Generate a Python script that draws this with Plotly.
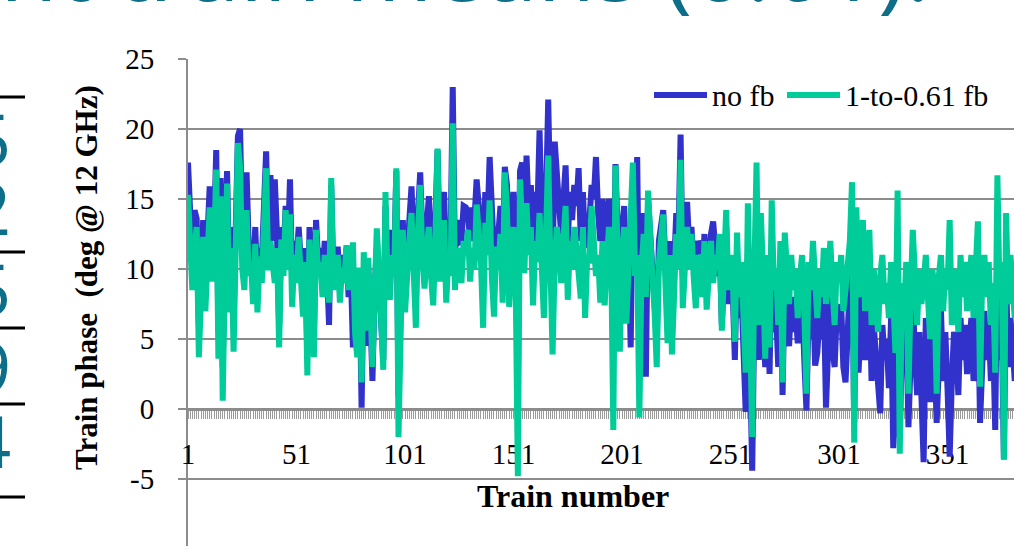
import plotly.graph_objects as go

# ---------------- data ----------------
no_fb = [
    17.6, 14.0, 10.5, 14.2, 13.6, 6.0, 11.5, 13.5, 9.0, 12.5,
    15.9, 11.0, 12.5, 18.5, 5.5, 16.5, 3.0, 12.0, 17.0, 9.0,
    13.0, 6.5, 14.0, 19.5, 20.0, 12.5, 10.5, 16.9, 11.5, 12.0,
    9.5, 13.0, 8.5, 11.5, 10.5, 14.0, 18.4, 11.5, 16.7, 12.0,
    16.4, 12.5, 6.0, 13.0, 11.0, 14.5, 11.5, 16.4, 9.0, 12.0,
    10.5, 13.0, 9.5, 8.0, 11.5, 4.0, 13.0, 9.0, 5.0, 13.5,
    10.5, 11.5, 9.0, 12.0, 10.0, 6.0, 16.0, 9.5, 10.5, 11.6,
    8.5, 11.0, 9.5, 11.5, 8.0, 10.1, 4.4, 9.0, 5.0, 9.5,
    0.1, 10.0, 4.5, 9.5, 7.0, 2.0, 8.5, 11.5, 9.0, 5.5,
    3.5, 14.5, 9.5, 9.0, 12.8, 10.5, 17.0, 1.0, 10.0, 13.5,
    8.5, 12.0, 13.5, 15.9, 11.5, 8.0, 14.0, 16.9, 12.5, 11.0,
    13.0, 15.2, 11.5, 9.5, 13.5, 18.5, 11.5, 14.7, 15.5, 10.0,
    13.0, 11.9, 23.0, 11.0, 13.5, 11.9, 12.0, 14.5, 14.4, 14.1,
    12.0, 14.4, 13.5, 16.4, 14.5, 13.0, 11.0, 15.5, 13.0, 18.0,
    13.0, 11.0, 13.0, 12.5, 14.5, 11.0, 17.3, 16.0, 11.0, 14.0,
    15.5, 12.0, 2.0, 17.0, 17.6, 13.0, 18.1, 14.0, 16.0, 12.0,
    15.5, 14.0, 19.9, 13.5, 11.0, 15.0, 22.1, 14.0, 10.0, 19.1,
    16.0, 14.5, 12.5, 15.5, 17.4, 12.0, 15.5, 13.5, 16.0, 14.5,
    17.2, 12.0, 15.5, 11.5, 14.0, 13.5, 16.0, 15.0, 18.0, 14.0,
    12.0, 15.0, 11.5, 13.5, 15.0, 14.0, 6.0, 17.5, 12.0, 7.5,
    13.0, 14.5, 9.5, 12.0, 4.4, 16.5, 12.0, 18.0, 5.0, 12.0,
    14.0, 2.3, 15.0, 12.5, 11.0, 9.0, 5.0, 12.0, 13.0, 14.2,
    10.5, 6.5, 12.0, 6.0, 10.0, 14.0, 12.0, 19.6, 9.5, 13.0,
    14.8, 11.5, 13.0, 10.5, 9.0, 12.0, 11.5, 9.5, 12.5, 8.0,
    11.0, 12.5, 13.4, 10.5, 9.5, 11.5, 6.0, 9.5, 13.0, 7.5,
    9.5, 8.5, 3.5, 10.5, 6.5, 8.5, 4.0, -0.2, 11.0, 5.0,
    -4.4, 7.0, 13.0, 3.5, 10.0, 6.5, 3.0, 8.5, 2.5, 11.0,
    5.5, 7.0, 3.0, 9.0, 1.0, 9.5, 5.5, 4.5, 8.0, 5.5,
    7.0, 4.7, 6.0, 8.0, 3.5, -0.1, 7.0, 5.0, 8.5, 3.1,
    4.0, 6.5, 5.0, 8.0, 0.1, 5.5, 8.5, 4.2, 3.0, 7.0,
    5.5, 7.5, 3.0, 1.9, 6.0, 8.0, 12.5, -1.0, 10.0, 2.6,
    7.0, 9.5, 3.5, 5.0, 8.5, 2.0, 6.0, 4.0, 1.0, -0.3,
    6.0, 3.5, 5.0, 1.5, 6.5, -2.8, 0.5, 10.0, -2.0, 4.5,
    3.0, 6.0, -1.3, 3.5, 8.0, 4.0, 1.0, 5.5, 2.0, -3.8,
    6.5, 3.5, 0.5, 5.5, 4.0, -1.0, 5.0, 7.0, 2.0, 5.5,
    1.5, -3.4, 2.0, 5.5, 4.5, 1.0, 6.5, 3.5, 6.0, 2.5,
    4.5, 6.5, 2.0, 5.5, 8.5, -1.0, 5.0, 7.0, 3.5, 6.0,
    2.0, 5.0, -1.5, 12.0, 3.5, 6.0, -3.6, 9.5, 3.0, 6.5,
    4.5, 2.0,
]

fb_061 = [
    15.3, 12.0, 8.5, 11.5, 13.0, 3.7, 9.5, 12.3, 7.0, 10.5,
    14.4, 9.1, 11.0, 17.1, 3.6, 15.2, 0.6, 10.0, 16.1, 6.9,
    11.5, 4.1, 12.0, 19.0, 17.3, 10.0, 8.5, 14.2, 9.5, 10.5,
    7.5, 11.8, 6.9, 10.9, 9.0, 12.5, 17.2, 9.9, 12.0, 10.4,
    9.0, 11.5, 4.4, 12.1, 9.5, 14.2, 10.0, 13.9, 7.3, 11.0,
    9.0, 12.3, 8.0, 6.6, 10.5, 2.4, 12.1, 8.0, 3.7, 12.8,
    9.5, 10.5, 8.0, 11.0, 9.0, 7.6, 16.5, 8.5, 10.0, 11.0,
    7.6, 10.1, 9.0, 11.7, 8.5, 10.1, 11.9, 5.4, 3.7, 10.1,
    1.9, 11.2, 5.6, 10.8, 8.0, 3.0, 9.5, 12.9, 10.0, 6.5,
    2.8, 15.5, 9.0, 7.8, 11.0, 9.5, 17.2, -2.0, 9.0, 12.8,
    6.9, 10.5, 12.0, 14.0, 9.5, 5.8, 12.5, 16.0, 10.9, 8.6,
    11.5, 13.0, 9.5, 7.4, 12.0, 18.6, 9.1, 11.0, 13.5, 7.6,
    11.0, 9.5, 20.4, 8.5, 11.5, 10.3, 9.0, 12.0, 11.0, 12.8,
    9.1, 11.5, 10.0, 14.6, 12.0, 10.5, 5.8, 13.3, 11.0, 14.9,
    9.5, 6.6, 11.6, 10.0, 12.5, 7.6, 16.9, 14.2, 7.3, 11.0,
    13.0, 9.0, -4.8, 16.4, 12.0, 9.7, 14.7, 11.0, 13.0, 7.4,
    12.0, 10.5, 14.0, 9.5, 6.5, 12.5, 18.1, 10.5, 3.9, 10.5,
    13.0, 11.5, 9.0, 12.0, 14.5, 7.8, 12.0, 10.0, 13.0, 11.5,
    9.5, 7.9, 13.0, 6.5, 11.0, 10.4, 14.5, 12.0, 9.5, 11.0,
    7.6, 12.0, 7.4, 10.5, 13.0, 11.0, -1.5, 17.4, 9.0, 4.1,
    11.0, 13.0, 6.1, 10.0, 12.5, 17.6, 9.5, 11.0, -0.6, 10.0,
    12.5, 8.0, 15.6, 11.0, 9.5, 7.0, 3.0, 10.5, 12.0, 13.9,
    9.0, 4.7, 11.0, 3.9, 8.1, 12.5, 10.0, 17.8, 7.2, 11.5,
    13.0, 10.0, 12.5, 9.5, 7.2, 11.0, 10.5, 8.0, 12.0, 7.1,
    10.5, 12.0, 9.0, 11.0, 10.0, 12.5, 5.6, 10.4, 14.2, 8.5,
    11.0, 9.5, 4.8, 12.6, 8.0, 10.5, 6.5, 2.6, 14.7, 7.5,
    -2.0, 10.0, 17.6, 6.0, 14.0, 9.5, 3.6, 11.0, 4.4, 14.9,
    8.5, 10.0, 6.0, 12.0, 1.9, 12.6, 9.0, 7.5, 11.0, 8.5,
    10.0, 6.5, 9.5, 11.0, 7.0, 1.1, 10.5, 8.5, 12.0, 9.0,
    6.5, 10.0, 8.0, 11.5, 7.5, 9.0, 12.0, 8.5, 6.0, 10.5,
    9.0, 11.0, 7.0, 8.5, 10.0, 12.0, 16.2, -2.4, 14.4, 8.0,
    10.5, 13.5, 7.0, 9.5, 12.8, 6.0, 10.0, 8.0, 5.5, 9.5,
    11.0, 7.5, 9.0, 6.5, 10.5, 8.0, 4.0, 15.6, -3.2, 9.0,
    7.0, 10.5, 1.1, 8.0, 12.8, 9.5, 6.0, 10.0, 7.5, 9.0,
    11.0, 8.0, 5.0, 10.0, 8.5, 1.1, 9.5, 11.0, 7.0, 10.0,
    8.5, 13.5, 6.0, 10.0, 9.0, 5.5, 11.0, 8.0, 10.5, 7.0,
    9.0, 11.0, 6.5, 10.0, 13.4, 1.6, 9.5, 11.0, 8.0, 10.5,
    6.0, 9.0, 2.6, 16.7, 8.0, 10.5, -3.6, 14.0, 7.5, 11.0,
    9.0, 6.5,
]

train_numbers = list(range(1, len(no_fb) + 1))
x_label_values = [1, 51, 101, 151, 201, 251, 301, 351]
y_tick_values = [-5, 0, 5, 10, 15, 20, 25]
y_tick_labels = ["-5", "0", "5", "10", "15", "20", "25"]
series_names = ["no fb", "1-to-0.61 fb"]
series_colors = ["#3131cc", "#00cc99"]

title_text = "nt train means (0.61)."
side_glyphs = ["5", "2", "5", "9", "4"]

# ---------------- geometry ----------------
W, H = 1014, 546
L, R, T, B = 188, 0, 59, 0
PW, PH = W - L - R, H - T - B
PX_PER_CAT = 2.17
PX_PER_UNIT = 14.0
y_top = 25.0
y_bot = y_top - PH / PX_PER_UNIT
x_lo = 1.0
x_hi = 1.0 + PW / PX_PER_CAT


def px(xp):
    return (xp - L) / PW


def py(yp):
    return (H - yp) / PH


GRID = "#8c8c8c"
SERIF = "Liberation Serif, Times New Roman, serif"
TEAL = "#0d6e89"

fig = go.Figure()
for name, vals, col in zip(series_names, [no_fb, fb_061], series_colors):
    fig.add_trace(go.Scatter(
        x=train_numbers, y=vals, mode="lines", name=name,
        line=dict(color=col, width=6), showlegend=False,
    ))

ticktext = [str(v) if v in x_label_values else "" for v in train_numbers]

fig.update_layout(
    width=W, height=H,
    margin=dict(l=L, r=R, t=T, b=B, pad=0),
    paper_bgcolor="white", plot_bgcolor="white",
    font=dict(family=SERIF, size=29, color="black"),
    xaxis=dict(
        range=[x_lo, x_hi], anchor="free", position=(0 - y_bot) / (y_top - y_bot),
        tickmode="array", tickvals=train_numbers, ticktext=ticktext,
        ticks="outside", ticklen=8, tickwidth=1, tickcolor="#9a9a9a",
        showline=True, linecolor=GRID, linewidth=2.5,
        showgrid=False, zeroline=False, layer="below traces",
        tickfont=dict(family=SERIF, size=29, color="black"),
        ticklabelstandoff=10,
    ),
    yaxis=dict(
        range=[y_bot, y_top], tickmode="array", tickvals=y_tick_values,
        ticktext=y_tick_labels,
        ticks="outside", ticklen=8, tickwidth=2, tickcolor=GRID,
        showline=True, linecolor=GRID, linewidth=2,
        showgrid=True, gridcolor=GRID, gridwidth=2, zeroline=False,
        layer="below traces",
        tickfont=dict(family=SERIF, size=29, color="black"),
        ticklabelstandoff=18,
    ),
)

annotations = [
    dict(text="<b>Train phase  (deg @ 12 GHz)</b>", textangle=-90,
         x=px(86), y=py(278), xref="paper", yref="paper",
         showarrow=False, xanchor="center", yanchor="middle",
         font=dict(family=SERIF, size=31, color="black")),
    dict(text="<b>Train number</b>", x=px(573), y=py(496), xref="paper", yref="paper",
         showarrow=False, xanchor="center", yanchor="middle",
         font=dict(family=SERIF, size=32, color="black")),
    dict(text="-10", x=px(162), y=py(556), xref="paper", yref="paper",
         showarrow=False, xanchor="right", yanchor="middle",
         font=dict(family=SERIF, size=29, color="black")),
    dict(text=title_text, x=px(-2), y=py(-35), xref="paper", yref="paper",
         showarrow=False, xanchor="left", yanchor="middle",
         font=dict(family="Open Sans", size=94, color=TEAL)),
]
for g, yc in zip(side_glyphs, [138, 207, 288, 366, 440]):
    annotations.append(dict(text=g, x=px(13), y=py(yc), xref="paper", yref="paper",
                            showarrow=False, xanchor="right", yanchor="middle",
                            font=dict(family="Open Sans", size=72, color=TEAL)))

# manual legend (line samples + labels)
leg_y = py(95)
shapes = []
for (x0, x1, tx, name, col) in [(654, 707, 710, series_names[0], series_colors[0]),
                                (787, 840, 843, series_names[1], series_colors[1])]:
    shapes.append(dict(type="line", xref="paper", yref="paper", x0=px(x0), x1=px(x1),
                       y0=leg_y, y1=leg_y, line=dict(color=col, width=6)))
    annotations.append(dict(text=name, x=px(tx), y=leg_y, xref="paper", yref="paper",
                            showarrow=False, xanchor="left", yanchor="middle",
                            font=dict(family=SERIF, size=30, color="black")))

for yb in [97, 252, 328, 404, 497]:
    shapes.append(dict(type="line", xref="paper", yref="paper", x0=px(0), x1=px(25),
                       y0=py(yb), y1=py(yb), line=dict(color="black", width=3)))

fig.update_layout(annotations=annotations, shapes=shapes)
fig.write_html("out.html", config={"displayModeBar": False},
               post_script="document.body.style.margin='0';document.body.style.overflow='hidden';")
